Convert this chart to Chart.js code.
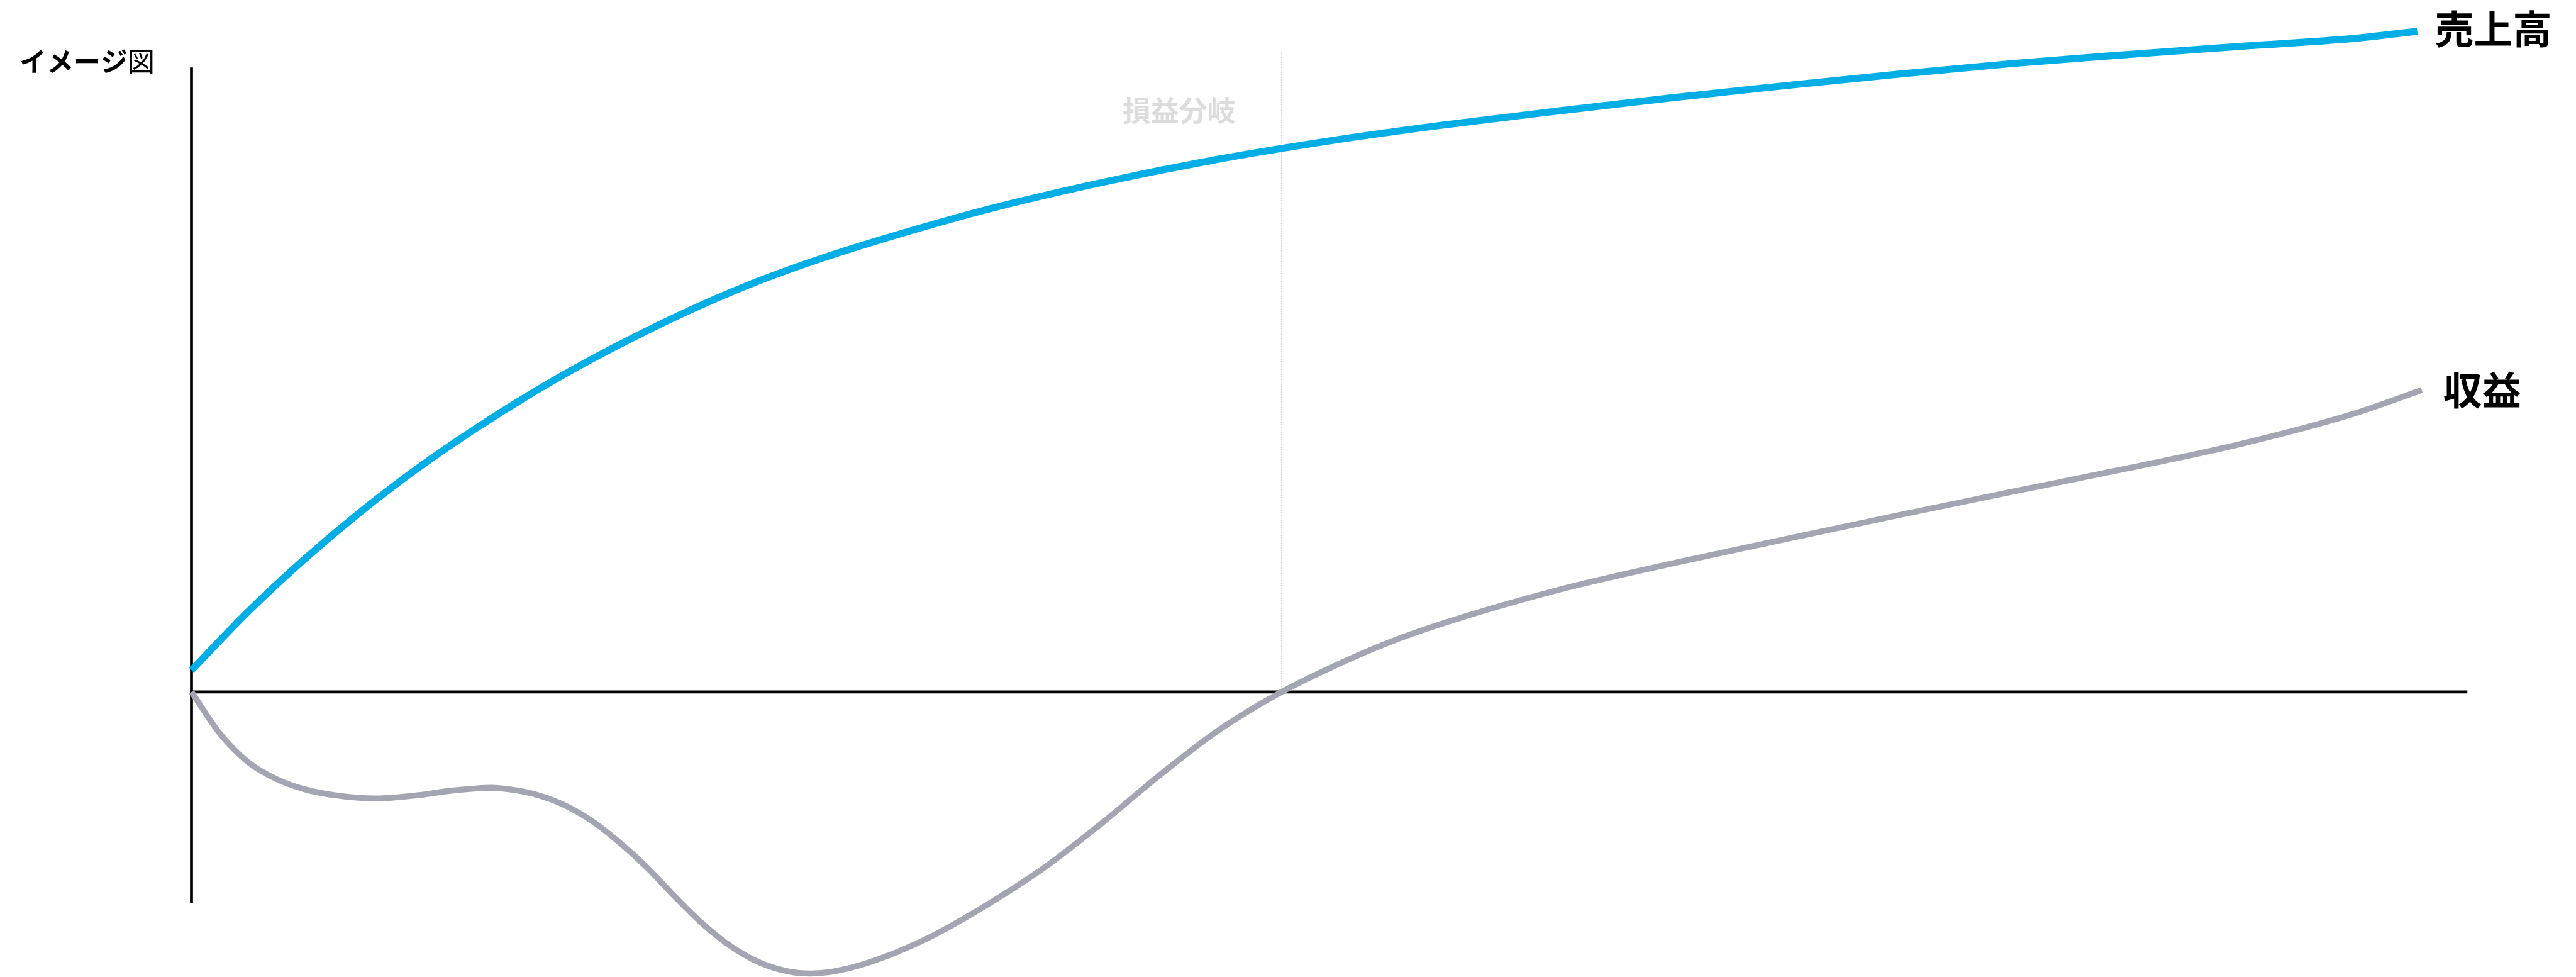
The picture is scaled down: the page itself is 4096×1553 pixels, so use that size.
<!DOCTYPE html>
<html>
<head>
<meta charset="utf-8">
<script src="https://cdn.jsdelivr.net/npm/chart.js@4/dist/chart.umd.min.js"></script>
<style>
  html, body { margin: 0; padding: 0; background: #fff; overflow: hidden; }
  canvas { display: block; }
</style>
</head>
<body>
<canvas id="c" width="4096" height="1553" style="width:4096px;height:1553px"></canvas>
<script>
// Sales (売上高) curve, abstract units
const salesX = [0, 2.5, 5, 7.5, 10, 12.5, 15, 17.5, 20, 22.5, 25, 27.5, 30, 35, 40, 45, 50, 55, 60, 65, 70, 75, 80, 85, 90, 95, 97.8];
const salesY = [3.3, 12.2, 20.2, 27.45, 34.0, 39.9, 45.3, 50.2, 54.65, 58.7, 62.3, 65.4, 68.15, 73.05, 77.1, 80.55, 83.4, 85.8, 87.9, 89.9, 91.75, 93.5, 95.1, 96.45, 97.7, 98.9, 100.0];

// Profit (収益) curve
const profitX = [0, 1.25, 2.5, 3.75, 5, 6.25, 8.1, 10, 11.25, 12.5, 13.2, 14, 15, 16.25, 17.5, 18.75, 20, 21.25, 22.5, 23.75, 25, 26.25, 27.2, 28, 29,
                 30, 31, 32.5, 35, 37.5, 40, 42.5, 45, 47.9, 50, 52.5, 55, 60, 65, 70, 75, 80, 85, 90, 95, 98];
const profitY = [0, -6.3, -10.65, -13.2, -14.75, -15.6, -16.1, -15.6, -15.0, -14.6, -14.5, -14.75, -15.4, -16.9, -19.3, -22.6, -26.5, -31.0, -35.2, -38.6, -41.0, -42.3, -42.6, -42.4, -41.7,
                 -40.65, -39.35, -37.0, -32.1, -26.5, -19.85, -12.7, -6.1, 0, 3.6, 7.35, 10.4, 15.4, 19.4, 23.1, 26.75, 30.3, 33.8, 37.5, 42.1, 45.7];

const seriesNames = ['売上高', '収益'];
const seriesColors = ['#00AEE5', '#A3A6B2'];

// Break-even point and axis extents
const breakEvenX = 47.9;
const breakEvenLabel = '損益分岐';
const breakEvenTop = 96.9;
const axisXRange = [0, 100];
const axisYRange = [-31.9, 94.5];
const chartTitle = ['イメージ', '図'];

const toPoints = (xs, ys) => xs.map((v, i) => ({ x: v, y: ys[i] }));

const JP = '"Noto Sans CJK JP", "Noto Sans", sans-serif';

const decorations = {
  id: 'decorations',
  beforeDatasetsDraw(chart) {
    const { ctx, scales: { x, y } } = chart;
    ctx.save();
    // break-even guide
    const bx = x.getPixelForValue(breakEvenX);
    ctx.strokeStyle = '#c6c6c6';
    ctx.lineWidth = 1.3;
    ctx.setLineDash([2, 2]);
    ctx.beginPath();
    ctx.moveTo(bx, y.getPixelForValue(breakEvenTop));
    ctx.lineTo(bx, y.getPixelForValue(0));
    ctx.stroke();
    ctx.setLineDash([]);
    // axes
    ctx.strokeStyle = '#000';
    ctx.lineWidth = 4.7;
    ctx.lineCap = 'butt';
    const x0 = x.getPixelForValue(0);
    ctx.beginPath();
    ctx.moveTo(x0, y.getPixelForValue(axisYRange[1]));
    ctx.lineTo(x0, y.getPixelForValue(axisYRange[0]));
    ctx.stroke();
    const y0 = y.getPixelForValue(0);
    ctx.beginPath();
    ctx.moveTo(x.getPixelForValue(axisXRange[0]) - 2.35, y0);
    ctx.lineTo(x.getPixelForValue(axisXRange[1]), y0);
    ctx.stroke();
    ctx.restore();
  },
  afterDatasetsDraw(chart) {
    const { ctx, scales: { x, y } } = chart;
    ctx.save();
    ctx.textBaseline = 'middle';
    ctx.textAlign = 'left';

    // title
    ctx.fillStyle = '#000';
    ctx.font = `700 43px ${JP}`;
    ctx.fillText(chartTitle[0], 31, 98);
    const w = ctx.measureText(chartTitle[0]).width;
    ctx.font = `400 43px ${JP}`;
    ctx.fillText(chartTitle[1], 31 + w, 98);

    // break-even label
    ctx.fillStyle = '#dcdcdc';
    ctx.font = `700 45px ${JP}`;
    ctx.textAlign = 'center';
    ctx.fillText(breakEvenLabel, x.getPixelForValue(breakEvenX) - 163, 176);

    // series labels at the line ends
    ctx.textAlign = 'left';
    ctx.fillStyle = '#000';
    ctx.font = `700 62px ${JP}`;
    const ends = [
      [salesX[salesX.length - 1], salesY[salesY.length - 1], 28, -3],
      [profitX[profitX.length - 1], profitY[profitY.length - 1], 34, 0]
    ];
    ends.forEach((e, i) => {
      ctx.fillText(seriesNames[i], x.getPixelForValue(e[0]) + e[2], y.getPixelForValue(e[1]) + e[3]);
    });
    ctx.restore();
  }
};

new Chart(document.getElementById('c'), {
  type: 'line',
  data: {
    datasets: [
      {
        label: seriesNames[0],
        data: toPoints(salesX, salesY),
        borderColor: seriesColors[0],
        borderWidth: 11.2,
        pointRadius: 0,
        cubicInterpolationMode: 'monotone',
        clip: false
      },
      {
        label: seriesNames[1],
        data: toPoints(profitX, profitY),
        borderColor: seriesColors[1],
        borderWidth: 9.4,
        pointRadius: 0,
        cubicInterpolationMode: 'monotone',
        clip: false
      }
    ]
  },
  options: {
    responsive: false,
    animation: false,
    devicePixelRatio: 1,
    layout: { padding: { left: 304.5, right: 172.8, top: 0, bottom: 0 } },
    scales: {
      x: { type: 'linear', min: 0, max: 100, display: false },
      y: { type: 'linear', min: -43.13, max: 104.72, display: false }
    },
    plugins: { legend: { display: false }, tooltip: { enabled: false } },
    events: []
  },
  plugins: [decorations]
});
</script>
</body>
</html>
